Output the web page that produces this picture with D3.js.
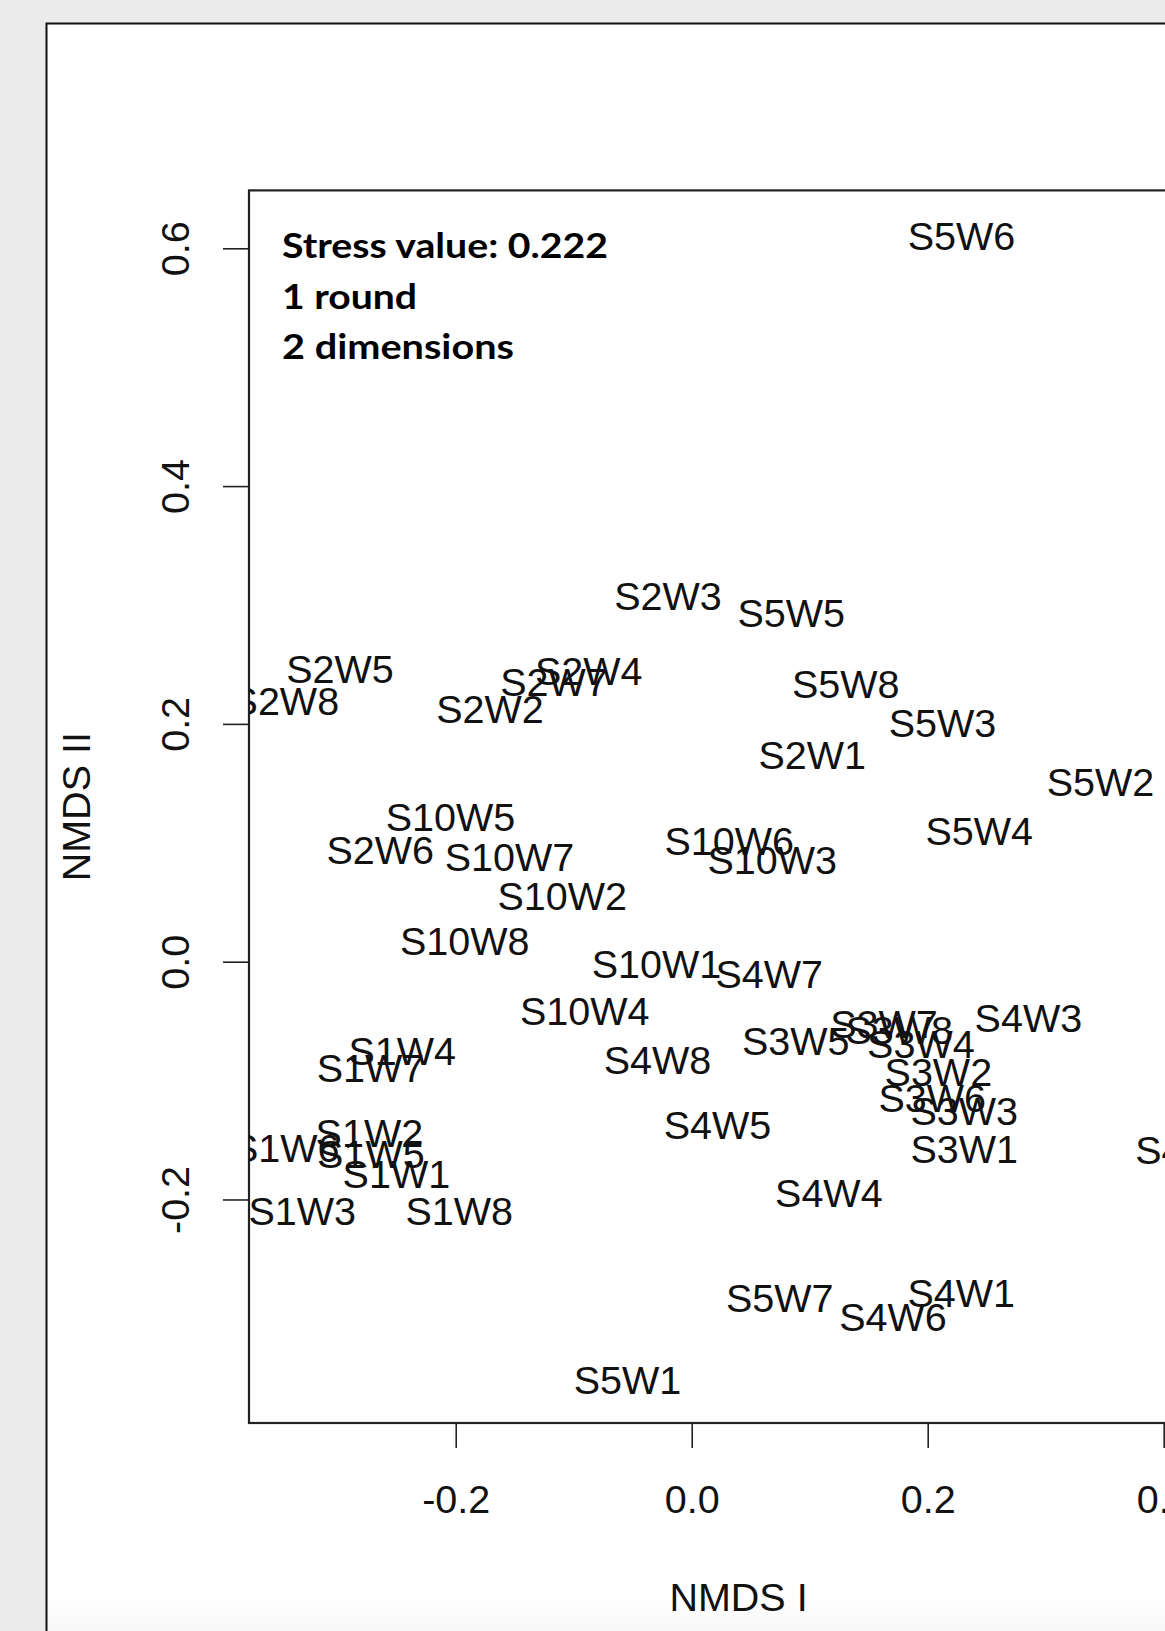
<!DOCTYPE html>
<html>
<head>
<meta charset="utf-8">
<script src="https://cdn.jsdelivr.net/npm/d3@7"></script>
<style>
  html, body { margin: 0; padding: 0; background: #ebebeb; }
  svg { display: block; }
</style>
</head>
<body>
<svg id="chart" width="1165" height="1631"></svg>
<script>
// NMDS ordination scores per sample (site S, week W)
const siteLabels = [
  "S5W6",
  "S2W5", "S2W8", "S2W7", "S2W4", "S2W2", "S2W3", "S2W1", "S2W6",
  "S5W5", "S5W8", "S5W3", "S5W2", "S5W4", "S5W1", "S5W7",
  "S10W5", "S10W7", "S10W2", "S10W8", "S10W6", "S10W3", "S10W4", "S10W1",
  "S1W4", "S1W7", "S1W2", "S1W6", "S1W5", "S1W1", "S1W3", "S1W8",
  "S4W8", "S4W7", "S4W3", "S4W5", "S4W2", "S4W4", "S4W6", "S4W1",
  "S3W5", "S3W7", "S3W8", "S3W4", "S3W2", "S3W6", "S3W3", "S3W1"
];
const nmds1 = [
  0.2286,
  -0.2981, -0.3444, -0.1167, -0.0873, -0.1709, -0.0201, 0.1021, -0.2640,
  0.0843, 0.1306, 0.2125, 0.3464, 0.2437, -0.0544, 0.0746,
  -0.2044, -0.1544, -0.1097, -0.1924, 0.0318, 0.0682, -0.0907, -0.0298,
  -0.2453, -0.2722, -0.2732, -0.3440, -0.2719, -0.2503, -0.3301, -0.1970,
  -0.0290, 0.0657, 0.2853, 0.0219, 0.4214, 0.1162, 0.1706, 0.2284,
  0.0882, 0.1630, 0.1759, 0.1942, 0.2090, 0.2038, 0.2309, 0.2309
];
const nmds2 = [
  0.6101,
  0.2463, 0.2191, 0.2355, 0.2442, 0.2124, 0.3074, 0.1738, 0.0944,
  0.2930, 0.2337, 0.2005, 0.1514, 0.1097, -0.3514, -0.2828,
  0.1220, 0.0879, 0.0551, 0.0176, 0.1017, 0.0860, -0.0413, -0.0019,
  -0.0747, -0.0890, -0.1436, -0.1563, -0.1619, -0.1784, -0.2099, -0.2095,
  -0.0823, -0.0102, -0.0469, -0.1373, -0.1584, -0.1944, -0.2990, -0.2785,
  -0.0669, -0.0524, -0.0574, -0.0694, -0.0928, -0.1142, -0.1254, -0.1571
];

const xTicks = [-0.2, 0.0, 0.2, 0.4];
const yTicks = [-0.2, 0.0, 0.2, 0.4, 0.6];
const xTitle = "NMDS I";
const yTitle = "NMDS II";
const fitNotes = ["Stress value: 0.222", "1 round", "2 dimensions"];

// ---- layout ----
const svg = d3.select("#chart");
const W = 1165, H = 1631;
const box = { left: 249, top: 190.4, right: 1228, bottom: 1423 };
const fs = 39.5;                 // base text size
const capHalf = 0.716 * fs / 2;  // shift that centres capitals on a point

const x = d3.scaleLinear().domain([-0.3752, 0.4545]).range([box.left, box.right]);
const y = d3.scaleLinear().domain([-0.3880, 0.6487]).range([box.bottom, box.top]);

// tick labels with a plain hyphen for negatives
const fmt = v => d3.format(".1f")(v).replace("\u2212", "-");

// backdrop: grey page with a white framed panel
const defs = svg.append("defs");
const grad = defs.append("linearGradient").attr("id", "panelFade")
  .attr("x1", 0).attr("y1", 0).attr("x2", 0).attr("y2", 1);
grad.append("stop").attr("offset", "0.955").attr("stop-color", "#ffffff");
grad.append("stop").attr("offset", "1").attr("stop-color", "#f3f3f3");

svg.append("rect").attr("width", W).attr("height", H).attr("fill", "#ebebeb");
svg.append("rect")
  .attr("x", 46.5).attr("y", 23.5)
  .attr("width", W + 10).attr("height", H + 10)
  .attr("fill", "url(#panelFade)")
  .attr("stroke", "#111").attr("stroke-width", 2);

defs.append("clipPath").attr("id", "plotClip")
  .append("rect")
  .attr("x", box.left).attr("y", box.top)
  .attr("width", box.right - box.left).attr("height", box.bottom - box.top);

const font = "'Liberation Sans', Arial, Helvetica, sans-serif";

// axes
const xAxis = svg.append("g")
  .attr("transform", `translate(0,${box.bottom})`)
  .call(d3.axisBottom(x).tickValues(xTicks).tickFormat(fmt)
    .tickSizeInner(25).tickSizeOuter(0));
xAxis.select(".domain").remove();
xAxis.selectAll(".tick line").attr("stroke", "#222").attr("stroke-width", 1.6);
xAxis.selectAll(".tick text")
  .attr("y", 90).attr("dy", null)
  .attr("font-family", font).attr("font-size", fs).attr("fill", "#111");

const yAxis = svg.append("g")
  .attr("transform", `translate(${box.left},0)`)
  .call(d3.axisLeft(y).tickValues(yTicks).tickFormat(fmt)
    .tickSizeInner(26).tickSizeOuter(0));
yAxis.select(".domain").remove();
yAxis.selectAll(".tick line").attr("stroke", "#222").attr("stroke-width", 1.6);
yAxis.selectAll(".tick text")
  .attr("x", null).attr("dy", null)
  .attr("transform", `translate(${175 + capHalf - box.left},0) rotate(-90)`)
  .attr("text-anchor", "middle")
  .attr("font-family", font).attr("font-size", fs).attr("fill", "#111");

// plot frame
svg.append("rect")
  .attr("x", box.left).attr("y", box.top)
  .attr("width", box.right - box.left).attr("height", box.bottom - box.top)
  .attr("fill", "none").attr("stroke", "#222").attr("stroke-width", 2.2);

// axis titles
svg.append("text")
  .attr("x", (box.left + box.right) / 2).attr("y", 1597 + capHalf)
  .attr("text-anchor", "middle")
  .attr("font-family", font).attr("font-size", fs).attr("fill", "#111")
  .text(xTitle);
svg.append("text")
  .attr("transform", `translate(${76 + capHalf},${(box.top + box.bottom) / 2}) rotate(-90)`)
  .attr("text-anchor", "middle")
  .attr("font-family", font).attr("font-size", fs).attr("fill", "#111")
  .text(yTitle);

// sample labels at their ordination scores
const samples = siteLabels.map((s, i) => ({ label: s, x: nmds1[i], y: nmds2[i] }));
svg.append("g").attr("clip-path", "url(#plotClip)")
  .selectAll("text").data(samples).join("text")
  .attr("x", d => x(d.x))
  .attr("y", d => y(d.y) + capHalf)
  .attr("text-anchor", "middle")
  .attr("font-family", font).attr("font-size", fs).attr("fill", "#111")
  .text(d => d.label);

// fit summary
const noteWidths = [326, 135, 232];
svg.append("g").selectAll("text").data(fitNotes).join("text")
  .attr("x", 282)
  .attr("y", (d, i) => 258.3 + i * 50.2)
  .attr("font-family", "Lato, 'Open Sans', sans-serif")
  .attr("font-weight", 700)
  .attr("font-size", 35)
  .attr("fill", "#000")
  .attr("textLength", (d, i) => noteWidths[i])
  .attr("lengthAdjust", "spacingAndGlyphs")
  .text(d => d);
</script>
</body>
</html>
